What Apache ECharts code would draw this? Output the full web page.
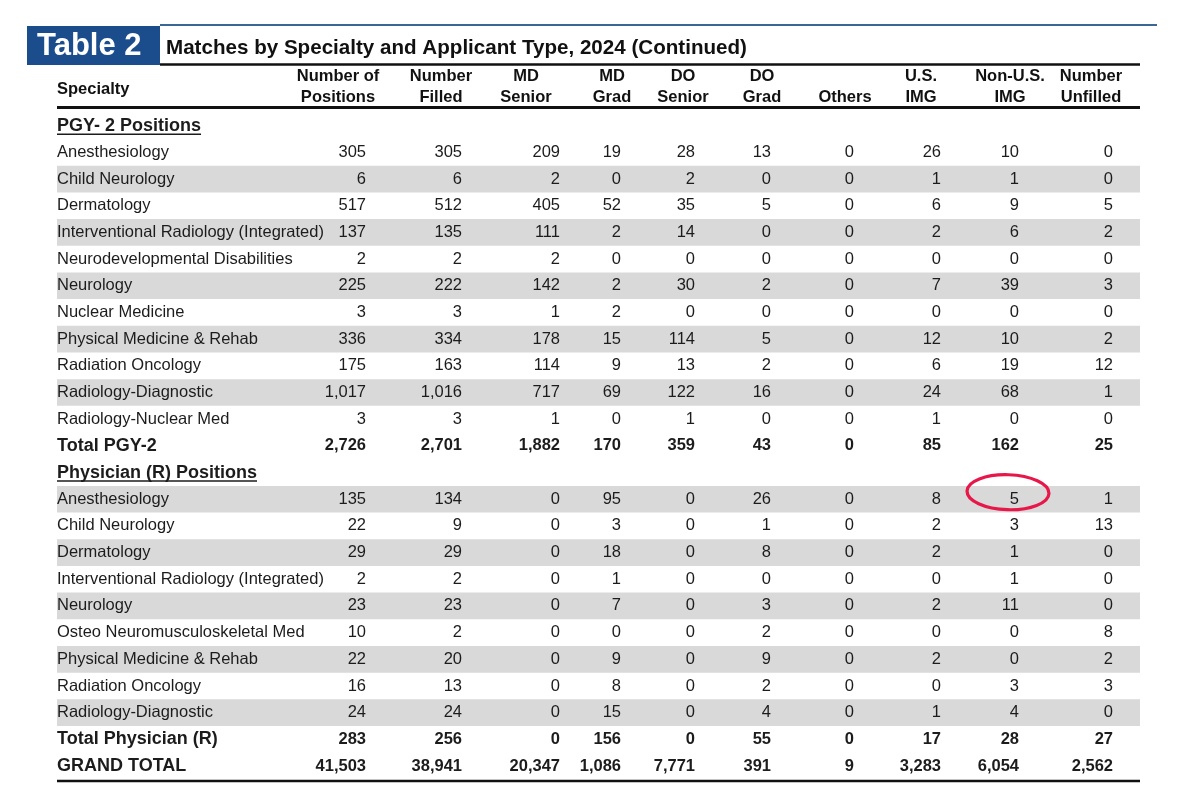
<!DOCTYPE html>
<html>
<head>
<meta charset="utf-8">
<script src="https://cdn.jsdelivr.net/npm/echarts@6/dist/echarts.min.js"></script>
<style>
html,body{margin:0;padding:0;background:#ffffff;}
#chart{width:1179px;height:810px;}
</style>
</head>
<body>
<div id="chart"></div>
<script>
// ---------------- DATA ----------------
const tableNumber = 'Table 2';
const tableTitle = 'Matches by Specialty and Applicant Type, 2024 (Continued)';
const specialtyHeader = 'Specialty';
const columnHeaders = [
  ['Number of', 'Positions'],
  ['Number', 'Filled'],
  ['MD', 'Senior'],
  ['MD', 'Grad'],
  ['DO', 'Senior'],
  ['DO', 'Grad'],
  ['', 'Others'],
  ['U.S.', 'IMG'],
  ['Non-U.S.', 'IMG'],
  ['Number', 'Unfilled']
];

const pgy2Title = 'PGY- 2 Positions';
const pgy2Specialties = [
  'Anesthesiology',
  'Child Neurology',
  'Dermatology',
  'Interventional Radiology (Integrated)',
  'Neurodevelopmental Disabilities',
  'Neurology',
  'Nuclear Medicine',
  'Physical Medicine & Rehab',
  'Radiation Oncology',
  'Radiology-Diagnostic',
  'Radiology-Nuclear Med'
];
const pgy2Values = [
  [305, 305, 209, 19, 28, 13, 0, 26, 10, 0],
  [6, 6, 2, 0, 2, 0, 0, 1, 1, 0],
  [517, 512, 405, 52, 35, 5, 0, 6, 9, 5],
  [137, 135, 111, 2, 14, 0, 0, 2, 6, 2],
  [2, 2, 2, 0, 0, 0, 0, 0, 0, 0],
  [225, 222, 142, 2, 30, 2, 0, 7, 39, 3],
  [3, 3, 1, 2, 0, 0, 0, 0, 0, 0],
  [336, 334, 178, 15, 114, 5, 0, 12, 10, 2],
  [175, 163, 114, 9, 13, 2, 0, 6, 19, 12],
  [1017, 1016, 717, 69, 122, 16, 0, 24, 68, 1],
  [3, 3, 1, 0, 1, 0, 0, 1, 0, 0]
];
const pgy2TotalLabel = 'Total PGY-2';
const pgy2Totals = [2726, 2701, 1882, 170, 359, 43, 0, 85, 162, 25];

const physTitle = 'Physician (R) Positions';
const physSpecialties = [
  'Anesthesiology',
  'Child Neurology',
  'Dermatology',
  'Interventional Radiology (Integrated)',
  'Neurology',
  'Osteo Neuromusculoskeletal Med',
  'Physical Medicine & Rehab',
  'Radiation Oncology',
  'Radiology-Diagnostic'
];
const physValues = [
  [135, 134, 0, 95, 0, 26, 0, 8, 5, 1],
  [22, 9, 0, 3, 0, 1, 0, 2, 3, 13],
  [29, 29, 0, 18, 0, 8, 0, 2, 1, 0],
  [2, 2, 0, 1, 0, 0, 0, 0, 1, 0],
  [23, 23, 0, 7, 0, 3, 0, 2, 11, 0],
  [10, 2, 0, 0, 0, 2, 0, 0, 0, 8],
  [22, 20, 0, 9, 0, 9, 0, 2, 0, 2],
  [16, 13, 0, 8, 0, 2, 0, 0, 3, 3],
  [24, 24, 0, 15, 0, 4, 0, 1, 4, 0]
];
const physTotalLabel = 'Total Physician (R)';
const physTotals = [283, 256, 0, 156, 0, 55, 0, 17, 28, 27];

const grandTotalLabel = 'GRAND TOTAL';
const grandTotals = [41503, 38941, 20347, 1086, 7771, 391, 9, 3283, 6054, 2562];

// circled cell (section Physician, Anesthesiology, Non-U.S. IMG)
const circledCell = { section: 'phys', rowIndex: 0, column: 8 };

// ---------------- LAYOUT ----------------
const FONT = "'Liberation Sans', Arial, Helvetica, sans-serif";
const W = 1179, H = 810;
const labelX = 57;
const tableRight = 1140;
const colRight = [366, 462, 560, 621, 695, 771, 854, 941, 1019, 1113];
const colHeaderCenter = [338, 441, 526, 612, 683, 762, 845, 921, 1010, 1091];
const firstRowY = 125.7, rowPitch = 26.68;

// ---------------- BUILD ROWS ----------------
const rows = [];
rows.push({ kind: 'section', label: pgy2Title });
pgy2Specialties.forEach((s, i) => rows.push({ kind: 'data', label: s, values: pgy2Values[i] }));
rows.push({ kind: 'total', label: pgy2TotalLabel, values: pgy2Totals });
const physStart = rows.length + 1;
rows.push({ kind: 'section', label: physTitle });
physSpecialties.forEach((s, i) => rows.push({ kind: 'data', label: s, values: physValues[i] }));
rows.push({ kind: 'total', label: physTotalLabel, values: physTotals });
rows.push({ kind: 'total', label: grandTotalLabel, values: grandTotals });

const circledRow = physStart + circledCell.rowIndex;

const fmt = v => v.toLocaleString('en-US');

const cells = [];
rows.forEach((r, ri) => {
  cells.push([ri, -1, labelX]);
  if (r.values) r.values.forEach((v, ci) => cells.push([ri, ci, colRight[ci]]));
});
const shaded = [];
rows.forEach((r, ri) => { if (r.kind === 'data' && ri % 2 === 0) shaded.push([ri, labelX]); });

const measureCtx = document.createElement('canvas').getContext('2d');
function textWidth(t, font) { measureCtx.font = font; return measureCtx.measureText(t).width; }

const gridTop = firstRowY - rowPitch / 2;
const gridBottom = H - (gridTop + rowPitch * rows.length);

// ---------------- GRAPHIC (header decorations) ----------------
const graphics = [
  { type: 'line', shape: { x1: 160, y1: 25, x2: 1157, y2: 25 }, style: { stroke: '#3a6795', lineWidth: 2 } },
  { type: 'rect', shape: { x: 27, y: 26, width: 133, height: 39 }, style: { fill: '#1b4d8c' } },
  { type: 'text', style: { x: 37, y: 46, text: tableNumber, font: 'bold 31px ' + FONT, fill: '#ffffff', align: 'left', verticalAlign: 'middle', textAlign: 'left', textVerticalAlign: 'middle' } },
  { type: 'text', style: { x: 166, y: 48, text: tableTitle, font: 'bold 20.6px ' + FONT, fill: '#111111', align: 'left', verticalAlign: 'middle', textAlign: 'left', textVerticalAlign: 'middle' } },
  { type: 'line', shape: { x1: 160, y1: 64.5, x2: tableRight, y2: 64.5 }, style: { stroke: '#111111', lineWidth: 2.5 } },
  { type: 'text', style: { x: labelX, y: 89, text: specialtyHeader, font: 'bold 16.5px ' + FONT, fill: '#111111', align: 'left', verticalAlign: 'middle', textAlign: 'left', textVerticalAlign: 'middle' } },
  { type: 'line', shape: { x1: labelX, y1: 107.5, x2: tableRight, y2: 107.5 }, style: { stroke: '#111111', lineWidth: 3 } },
  { type: 'line', shape: { x1: labelX, y1: 781, x2: tableRight, y2: 781 }, style: { stroke: '#111111', lineWidth: 2.5 } }
];
columnHeaders.forEach((h, i) => {
  [0, 1].forEach(k => {
    if (!h[k]) return;
    graphics.push({ type: 'text', style: { x: colHeaderCenter[i], y: k === 0 ? 76 : 97, text: h[k], font: 'bold 16.5px ' + FONT, fill: '#111111', align: 'center', verticalAlign: 'middle', textAlign: 'center', textVerticalAlign: 'middle' } });
  });
});

// ---------------- CHART ----------------
const chart = echarts.init(document.getElementById('chart'), null, { renderer: 'canvas', width: W, height: H });
chart.setOption({
  animation: false,
  backgroundColor: '#ffffff',
  grid: { left: 0, right: 0, top: gridTop, bottom: gridBottom, containLabel: false },
  xAxis: { type: 'value', min: 0, max: W, show: false },
  yAxis: { type: 'category', data: rows.map((r, i) => i), inverse: true, show: false },
  graphic: graphics,
  series: [
    {
      type: 'custom',
      silent: true,
      z: 1,
      data: shaded,
      encode: { y: 0, x: 1 },
      renderItem: function (params, api) {
        const ri = api.value(0);
        const p1 = api.coord([labelX, ri]);
        const p2 = api.coord([tableRight, ri]);
        const h = api.size([0, 1])[1];
        return { type: 'rect', shape: { x: p1[0], y: p1[1] - h / 2, width: p2[0] - p1[0], height: h }, style: { fill: '#d9d9d9' } };
      }
    },
    {
      type: 'custom',
      silent: true,
      z: 3,
      data: cells,
      encode: { y: 0, x: 2 },
      renderItem: function (params, api) {
        const ri = api.value(0), ci = api.value(1), ax = api.value(2);
        const p = api.coord([ax, ri]);
        const r = rows[ri];
        const bold = r.kind !== 'data';
        let text, size;
        if (ci < 0) { text = r.label; size = r.kind === 'data' ? 16.5 : 18; }
        else { text = fmt(r.values[ci]); size = 16.5; }
        const font = (bold ? 'bold ' : '') + size + 'px ' + FONT;
        const align = ci < 0 ? 'left' : 'right';
        const children = [{
          type: 'text',
          style: { x: p[0], y: p[1], text: text, font: font, fill: '#1c1c1c', align: align, verticalAlign: 'middle', textAlign: align, textVerticalAlign: 'middle' }
        }];
        if (r.kind === 'section' && ci < 0) {
          const w = textWidth(text, font);
          children.push({ type: 'line', shape: { x1: p[0], y1: p[1] + 8.5, x2: p[0] + w, y2: p[1] + 8.5 }, style: { stroke: '#1c1c1c', lineWidth: 1.6 } });
        }
        if (ri === circledRow && ci === circledCell.column) {
          children.push({ type: 'ellipse', shape: { cx: p[0] - 11, cy: p[1] - 7, rx: 41, ry: 17.5 }, rotation: -0.03, originX: p[0] - 11, originY: p[1] - 7, style: { fill: 'none', stroke: '#e8174a', lineWidth: 3.2 } });
        }
        return { type: 'group', children: children };
      }
    }
  ]
});
</script>
</body>
</html>
